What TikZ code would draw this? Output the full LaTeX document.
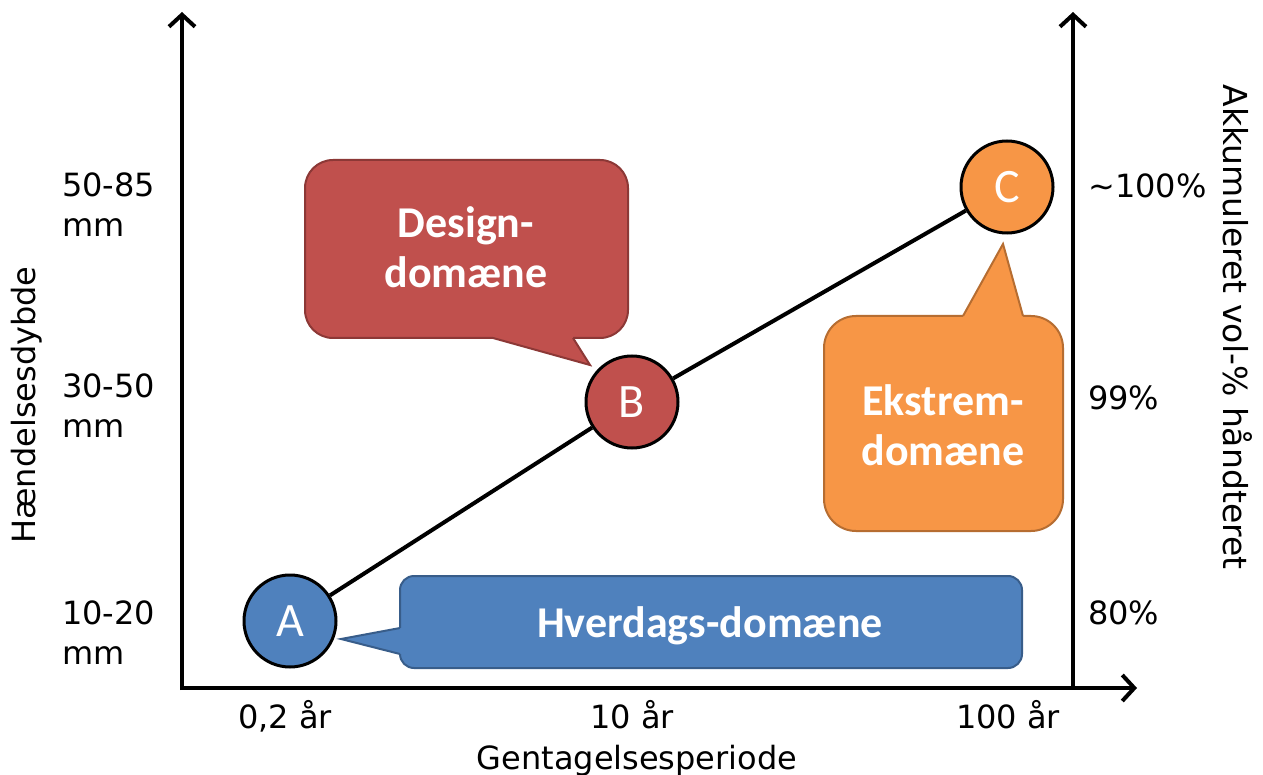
\documentclass[tikz,border=0pt]{standalone}
\usepackage{fontspec}
\setmainfont{DejaVu Sans}
\newfontfamily\calibri{Carlito}
\usetikzlibrary{arrows.meta}
\definecolor{cblue}{HTML}{4F81BD}
\definecolor{cbluedk}{HTML}{385D8A}
\definecolor{cred}{HTML}{C0504D}
\definecolor{creddk}{HTML}{8C3836}
\definecolor{corange}{HTML}{F79646}
\definecolor{corangedk}{HTML}{B66D31}
\begin{document}
\begin{tikzpicture}[x=1pt,y=-1pt,
  axisline/.style={line width=4pt,-{Straight Barb[length=12pt,width=26pt]}},
  lbl/.style={font=\fontsize{32}{40}\selectfont,inner sep=0pt,align=left},
  ttl/.style={font=\fontsize{32}{40}\selectfont,inner sep=0pt},
  pt/.style={circle,draw=black,line width=3pt,minimum size=92pt,inner sep=0pt,
    font=\calibri\fontsize{48}{50}\selectfont,text=white},
  callouttext/.style={font=\calibri\bfseries\fontsize{44}{50}\selectfont,text=white,align=center,inner sep=0pt},
  conn/.style={line width=4pt,black},
  bluebox/.style={fill=cblue,draw=cbluedk,line width=2pt},
  redbox/.style={fill=cred,draw=creddk,line width=2pt},
  orangebox/.style={fill=corange,draw=corangedk,line width=2pt}]
\useasboundingbox (0,0) rectangle (1263,775);
\fill[white] (0,0) rectangle (1263,775);

% axes
\coordinate (O) at (182,688);
\coordinate (Ytop) at (182,12);
\coordinate (Xend) at (1137,688);
\coordinate (R) at (1073,688);
\coordinate (Rtop) at (1073,12);
\draw[axisline] (182,690) -- (Ytop);
\draw[axisline] (180,688) -- (Xend);
\draw[axisline] (R) -- (Rtop);

% blue callout
\draw[bluebox,rounded corners=14pt] (400,576) rectangle (1022,668);
\fill[cblue] (405,628) -- (400,628) -- (341,639) -- (400,654) -- (405,654) -- cycle;
\draw[cbluedk,line width=2pt,line join=miter] (400,628) -- (341,639) -- (400,654);
% red callout
\draw[redbox,rounded corners=28pt] (305,160) rectangle (628,338);
\fill[cred] (493,333) -- (493,338) -- (590,365) -- (573,338) -- (573,333) -- cycle;
\draw[creddk,line width=2pt] (493,338) -- (590,365) -- (573,338);
% orange callout
\draw[orangebox,rounded corners=32pt] (824,316) rectangle (1063,531);
\fill[corange] (963,321) -- (963,316) -- (1003,244) -- (1023,316) -- (1023,321) -- cycle;
\draw[corangedk,line width=2pt] (963,316) -- (1003,244) -- (1023,316);

\node[callouttext,anchor=base] (hv) at (710,637) {Hverdags-domæne};
\node[callouttext,anchor=base] (de) at (466,288) {Design-\\domæne};
\node[callouttext,anchor=base] (ek) at (943,465) {Ekstrem-\\domæne};

% points
\node[pt,fill=cblue] (A) at (290,621) {A};
\node[pt,fill=cred] (B) at (632,402) {B};
\node[pt,fill=corange] (C) at (1007,187) {C};
\draw[conn] (A) -- (B);
\draw[conn] (B) -- (C);

% left labels
\node[lbl,anchor=base west] (l1) at (62,237) {50-85\\mm};
\node[lbl,anchor=base west] (l2) at (62,437) {30-50\\mm};
\node[lbl,anchor=base west] (l3) at (62,664) {10-20\\mm};

% right labels
\node[ttl,anchor=base west] (r1) at (1088,198) {{\char"007E}100\%};
\node[ttl,anchor=base west] (r2) at (1088,409) {99\%};
\node[ttl,anchor=base west] (r3) at (1088,624) {80\%};

% bottom labels
\node[ttl,anchor=base] (b1) at (285,728) {0,2 år};
\node[ttl,anchor=base] (b2) at (632,728) {10 år};
\node[ttl,anchor=base] (b3) at (1008,728) {100 år};
\node[ttl,anchor=base] (xt) at (637,769) {Gentagelsesperiode};

% axis titles
\node[ttl,anchor=base,rotate=90] (yt) at (35,405) {Hændelsesdybde};
\node[ttl,anchor=base,rotate=-90,font=\fontsize{33}{40}\selectfont] (yt2) at (1223,327) {Akkumuleret vol-\% håndteret};
\end{tikzpicture}
\end{document}
